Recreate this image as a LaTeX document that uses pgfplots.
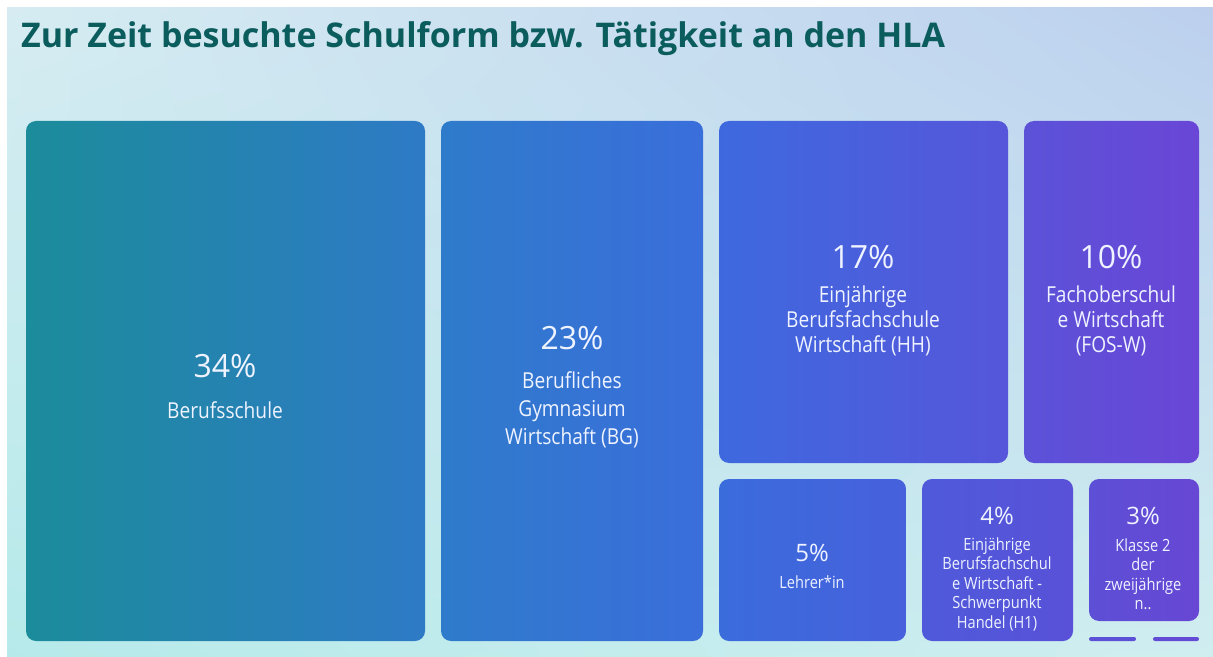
\documentclass[border=0pt]{standalone}
\usepackage{fontspec}
\setmainfont{Open Sans}
\newfontfamily\lab{Open Sans}
\newfontfamily\labn[FakeStretch=0.87]{Open Sans}
\usepackage{pgfplots}
\pgfplotsset{compat=1.18}
\usetikzlibrary{shadings}
\definecolor{bgTL}{HTML}{D6ECF2}
\definecolor{bgTR}{HTML}{BCD0EE}
\definecolor{bgBL}{HTML}{B6EAEA}
\definecolor{bgBR}{HTML}{D0EEF0}
\definecolor{titlec}{HTML}{0B5C5C}
\definecolor{txt}{HTML}{EEF3FF}
\definecolor{aL}{RGB}{28,140,155}\definecolor{aR}{RGB}{46,122,198}
\definecolor{bL}{RGB}{47,123,203}\definecolor{bR}{RGB}{58,110,219}
\definecolor{cL}{RGB}{62,105,222}\definecolor{cR}{RGB}{86,86,218}
\definecolor{dL}{RGB}{91,82,216}\definecolor{dR}{RGB}{106,70,214}
\definecolor{eL}{RGB}{58,108,220}\definecolor{eR}{RGB}{71,96,220}
\definecolor{fL}{RGB}{79,90,218}\definecolor{fR}{RGB}{89,81,216}
\definecolor{gL}{RGB}{93,79,214}\definecolor{gR}{RGB}{103,71,212}
\definecolor{hA}{RGB}{92,80,214}\definecolor{hB}{RGB}{98,75,213}
\tikzset{
  pct/.style={text=txt,align=center,font=\fontsize{16}{19}\lab},
  big/.style={text=txt,align=center,font=\fontsize{11}{12.5}\labn},
  spct/.style={text=txt,align=center,font=\fontsize{12}{14}\lab},
  sml/.style={text=txt,align=center,font=\fontsize{8.4}{9.75}\labn},
}
\begin{document}
\begin{tikzpicture}
\begin{axis}[width=606.5pt,height=328.5pt,scale only axis,
  xmin=0,xmax=1213,ymin=0,ymax=657,y dir=reverse,
  axis lines=none,ticks=none,clip=false]
% background
\addplot[draw=none,fill=white] coordinates {(0,0) (1213,0) (1213,657) (0,657)} --cycle;
\addplot[draw=none,upper left=bgTL,upper right=bgTR,lower left=bgBL,lower right=bgBR]
  coordinates {(7,8) (1213,8) (1213,657) (7,657)} --cycle;
% treemap tiles
\addplot[draw=none,rounded corners=5pt,left color=aL,right color=aR]
  coordinates {(26,121) (425,121) (425,641) (26,641)} --cycle;
\addplot[draw=none,rounded corners=5pt,left color=bL,right color=bR]
  coordinates {(441,121) (703,121) (703,641) (441,641)} --cycle;
\addplot[draw=none,rounded corners=5pt,left color=cL,right color=cR]
  coordinates {(719,121) (1008,121) (1008,463) (719,463)} --cycle;
\addplot[draw=none,rounded corners=5pt,left color=dL,right color=dR]
  coordinates {(1024,121) (1199,121) (1199,463) (1024,463)} --cycle;
\addplot[draw=none,rounded corners=5pt,left color=eL,right color=eR]
  coordinates {(719,479) (906,479) (906,641) (719,641)} --cycle;
\addplot[draw=none,rounded corners=5pt,left color=fL,right color=fR]
  coordinates {(922,479) (1073,479) (1073,641) (922,641)} --cycle;
\addplot[draw=none,rounded corners=5pt,left color=gL,right color=gR]
  coordinates {(1089,479) (1199,479) (1199,621) (1089,621)} --cycle;
\addplot[draw=none,rounded corners=1pt,fill=hA]
  coordinates {(1089,637) (1136,637) (1136,641) (1089,641)} --cycle;
\addplot[draw=none,rounded corners=1pt,fill=hB]
  coordinates {(1153,637) (1199,637) (1199,641) (1153,641)} --cycle;
% title
\node[anchor=base west,text=titlec,font=\fontsize{17}{20}\selectfont\bfseries,align=left] at (axis cs:14,48) {Zur Zeit besuchte Schulform bzw. Tätigkeit an den HLA};
% labels
\node[pct] at (axis cs:225,366) {34\%};
\node[big] at (axis cs:225,410) {Berufsschule};
\node[pct] at (axis cs:572,338) {23\%};
\node[big,font=\fontsize{11}{14}\labn] at (axis cs:572,410) {Berufliches\\Gymnasium\\Wirtschaft (BG)};
\node[pct] at (axis cs:863,257) {17\%};
\node[big] at (axis cs:863,321) {Einjährige\\Berufsfachschule\\Wirtschaft (HH)};
\node[pct] at (axis cs:1111,257) {10\%};
\node[big] at (axis cs:1111,321) {Fachoberschul\\e Wirtschaft\\(FOS-W)};
\node[spct] at (axis cs:812,553) {5\%};
\node[sml] at (axis cs:812,582) {Lehrer*in};
\node[spct] at (axis cs:997,516) {4\%};
\node[sml] at (axis cs:997,584) {Einjährige\\Berufsfachschul\\e Wirtschaft -\\Schwerpunkt\\Handel (H1)};
\node[spct] at (axis cs:1143,516) {3\%};
\node[sml] at (axis cs:1143,574) {Klasse 2\\der\\zweijährige\\n..};
\end{axis}
\end{tikzpicture}
\end{document}
